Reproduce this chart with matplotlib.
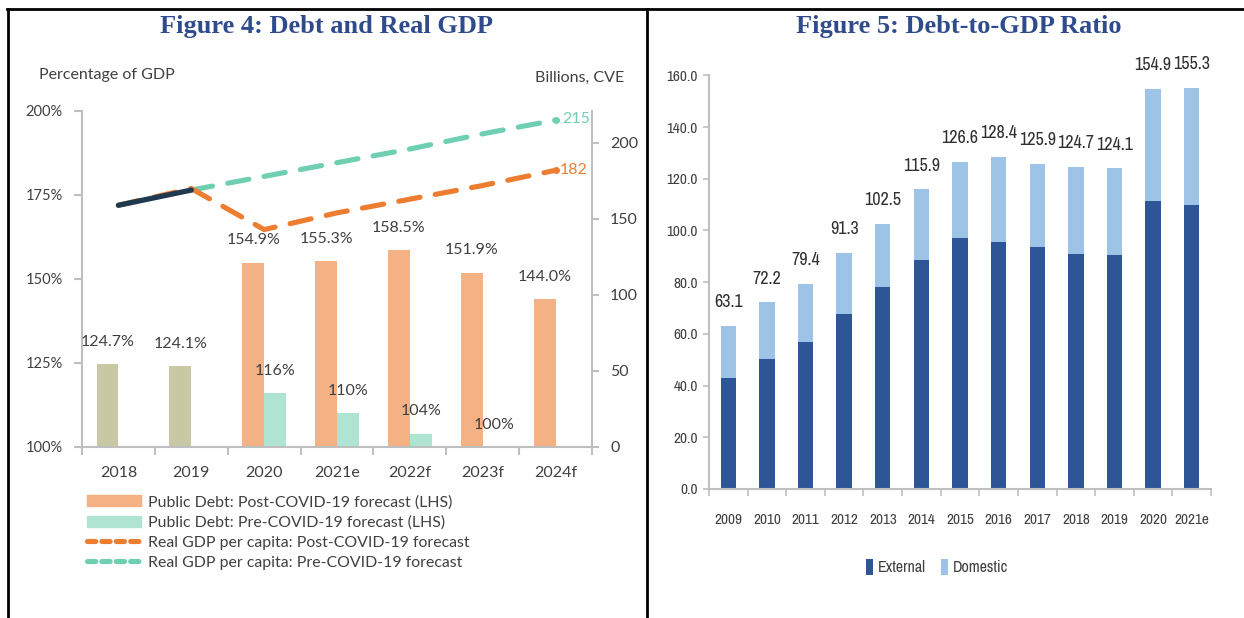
import numpy as np
import matplotlib
matplotlib.use('Agg')
import matplotlib.pyplot as plt
from matplotlib.lines import Line2D
from matplotlib.patches import Patch
from matplotlib import font_manager

# Figure 4 data
years4 = ['2018', '2019', '2020', '2021e', '2022f', '2023f', '2024f']
debt_post = [124.7, 124.1, 154.9, 155.3, 158.5, 151.9, 144.0]
debt_pre = [np.nan, np.nan, 116, 110, 104, 100, np.nan]
gdp_hist = [159, 169, np.nan, np.nan, np.nan, np.nan, np.nan]
gdp_post = [159, 170, 143, 154, 163, 172, 182]
gdp_pre = [np.nan, 169, 178, 187, 196, 206, 215]

# Figure 5 data
years5 = ['2009', '2010', '2011', '2012', '2013', '2014', '2015',
          '2016', '2017', '2018', '2019', '2020', '2021e']
external = [43.0, 50.2, 56.7, 67.8, 78.3, 88.6, 97.0, 95.4, 93.5, 90.9, 90.5, 111.4, 109.9]
domestic = [20.1, 22.0, 22.7, 23.5, 24.2, 27.3, 29.6, 33.0, 32.4, 33.8, 33.6, 43.5, 45.4]

W, H = 1244, 618
GREY = '#404040'
SPINE = '#bfbfbf'
TITLE = '#2f4b8c'

ttf = font_manager.fontManager.ttflist
installed = {f.name for f in ttf}
sans = 'Lato' if 'Lato' in installed else 'DejaVu Sans'
narrow_fonts = sorted({f.name for f in ttf if ('Narrow' in f.name or 'Condensed' in f.name)
                       and 'Mono' not in f.name and 'Serif' not in f.name})
narrow = narrow_fonts[0] if narrow_fonts else 'Roboto'
serif = 'Liberation Serif'


def box(x0, y0, x1, y1):
    return [x0 / W, 1 - y1 / H, (x1 - x0) / W, (y1 - y0) / H]


fig = plt.figure(figsize=(12.44, 6.18), dpi=100)

# ---- Figure 4 ----
ax = fig.add_axes(box(82, 111, 592, 447))
x = np.arange(len(years4))
post_cols = ['#c9c8a5', '#c9c8a5', '#f4b183', '#f4b183', '#f4b183', '#f4b183', '#f4b183']
ax.bar(x - 0.15, debt_post, 0.3, color=post_cols)
pre_ok = ~np.isnan(debt_pre)
ax.bar(x[pre_ok] + 0.15, np.array(debt_pre)[pre_ok], 0.3, color='#b0e4d2')
ax.set_xlim(-0.5, 6.5)
ax.set_ylim(100, 200)
ax.set_yticks([100, 125, 150, 175, 200])
ax.set_yticklabels([f'{t}%' for t in [100, 125, 150, 175, 200]], family=sans)
ax.set_xticks(x)
ax.set_xticklabels(years4, family=sans)
ax.set_xticks(np.arange(-0.5, 7), minor=True)
ax.tick_params(axis='x', which='major', length=0, pad=14, labelsize=11.5, labelcolor=GREY)
ax.tick_params(axis='x', which='minor', length=6, color=SPINE, width=1.5)
ax.tick_params(axis='y', length=6, color=SPINE, width=1.5, labelsize=10.5, labelcolor=GREY, pad=8)
for s in ['top', 'right']:
    ax.spines[s].set_visible(False)
for s in ['left', 'bottom']:
    ax.spines[s].set_color(SPINE)
    ax.spines[s].set_linewidth(1.5)

for i, v in enumerate(debt_post):
    ax.annotate(f'{v:.1f}%', (x[i] - 0.15, v), xytext=(0, 16), textcoords='offset points',
                ha='center', va='center', fontsize=11.5, color=GREY, family=sans)
for i, v in enumerate(debt_pre):
    if not np.isnan(v):
        ax.annotate(f'{v:.0f}%', (x[i] + 0.15, v), xytext=(0, 16), textcoords='offset points',
                    ha='center', va='center', fontsize=11.5, color=GREY, family=sans)

ax2 = ax.twinx()
ax2.set_ylim(0, 221)
ax2.set_yticks([0, 50, 100, 150, 200])
ax2.set_yticklabels(['0', '50', '100', '150', '200'], family=sans)
ax2.tick_params(axis='y', length=5, color=SPINE, width=1.5, labelsize=11.5, labelcolor=GREY, pad=8)
for s in ['top', 'left', 'bottom']:
    ax2.spines[s].set_visible(False)
ax2.spines['right'].set_color(SPINE)
ax2.spines['right'].set_linewidth(1.5)

teal = '#6fcfb1'
orange = '#ed7d31'
ax2.plot(x, gdp_pre, color=teal, lw=3.7, dashes=(4.2, 3.0), dash_capstyle='round')
ax2.plot(x, gdp_post, color=orange, lw=3.7, dashes=(4.2, 3.0), dash_capstyle='round')
ax2.plot(x, gdp_hist, color='#1f3a4f', lw=3.8, solid_capstyle='round')
ax2.plot(x[-1], gdp_post[-1], 'o', ms=4, color=orange)
ax2.plot(x[-1], gdp_pre[-1], 'o', ms=4, color=teal)
ax2.annotate(f'{gdp_post[-1]}', (x[-1], gdp_post[-1]), xytext=(3, 0), textcoords='offset points',
             va='center', fontsize=11.5, color=orange, family=sans)
ax2.annotate(f'{gdp_pre[-1]}', (x[-1], gdp_pre[-1]), xytext=(5, 1), textcoords='offset points',
             va='center', fontsize=11.5, color=teal, family=sans)

fig.text(39 / W, 1 - 75 / H, 'Percentage of GDP', ha='left', va='center',
         fontsize=11.5, color=GREY, family=sans)
fig.text(624 / W, 1 - 78 / H, 'Billions, CVE', ha='right', va='center',
         fontsize=11.5, color=GREY, family=sans)
fig.text(327 / W, 1 - 27 / H, 'Figure 4: Debt and Real GDP', ha='center', va='center',
         fontsize=19, fontweight='bold', color=TITLE, family=serif)

handles = [Patch(color='#f4b183'), Patch(color='#b0e4d2'),
           Line2D([], [], color=orange, lw=3.7, dashes=(1.6, 1.2), dash_capstyle='round'),
           Line2D([], [], color=teal, lw=3.7, dashes=(1.6, 1.2), dash_capstyle='round')]
labels = ['Public Debt: Post-COVID-19 forecast (LHS)', 'Public Debt: Pre-COVID-19 forecast (LHS)',
          'Real GDP per capita: Post-COVID-19 forecast', 'Real GDP per capita: Pre-COVID-19 forecast']
fig.legend(handles, labels, loc='upper left', bbox_to_anchor=(76 / W, 1 - 484 / H),
           frameon=False, handlelength=3.4, handleheight=0.7, handletextpad=0.45,
           labelspacing=0.38, borderpad=0.2,
           prop={'family': sans, 'size': 11.4}, labelcolor=GREY)

# ---- Figure 5 ----
bx = fig.add_axes(box(709, 75.4, 1211, 489))
x5 = np.arange(len(years5))
bx.bar(x5, external, 0.4, color='#2e5596', label='External')
bx.bar(x5, domestic, 0.4, bottom=external, color='#9dc3e6', label='Domestic')
bx.set_xlim(-0.5, len(years5) - 0.5)
bx.set_ylim(0, 160)
yt = np.arange(0, 161, 20)
bx.set_yticks(yt)
bx.set_yticklabels([f'{t:.1f}' for t in yt], family=narrow)
bx.set_xticks(x5)
bx.set_xticklabels(years5, family=narrow)
bx.set_xticks(np.arange(-0.5, len(years5)), minor=True)
bx.tick_params(axis='x', which='major', length=0, pad=17, labelsize=11, labelcolor=GREY)
bx.tick_params(axis='x', which='minor', length=5, color=SPINE, width=1.2)
bx.tick_params(axis='y', length=4, color=SPINE, width=1.2, labelsize=11, labelcolor=GREY, pad=4)
for s in ['top', 'right']:
    bx.spines[s].set_visible(False)
for s in ['left', 'bottom']:
    bx.spines[s].set_color(SPINE)
    bx.spines[s].set_linewidth(1.5)

for i in range(len(years5)):
    tot = external[i] + domestic[i]
    bx.annotate(f'{tot:.1f}', (x5[i], tot), xytext=(0, 17), textcoords='offset points',
                ha='center', va='center', fontsize=13, fontweight='bold', color='#303030', family=narrow)

fig.text(959 / W, 1 - 27 / H, 'Figure 5: Debt-to-GDP Ratio', ha='center', va='center',
         fontsize=19, fontweight='bold', color=TITLE, family=serif)
bx.legend(loc='center', bbox_to_anchor=(937 / W, 1 - 567 / H), bbox_transform=fig.transFigure,
          ncol=2, frameon=False, handlelength=0.45, handleheight=1.2, handletextpad=0.3,
          columnspacing=0.9, prop={'family': narrow, 'size': 11.5}, labelcolor=GREY)

# table borders
for xs, ys in [([8, 8], [618, 9]), ([647, 647], [618, 9]), ([7, 1244], [9, 9])]:
    fig.add_artist(Line2D([v / W for v in xs], [1 - v / H for v in ys], color='black',
                          lw=2, transform=fig.transFigure))

fig.savefig('out.png', dpi=100)
